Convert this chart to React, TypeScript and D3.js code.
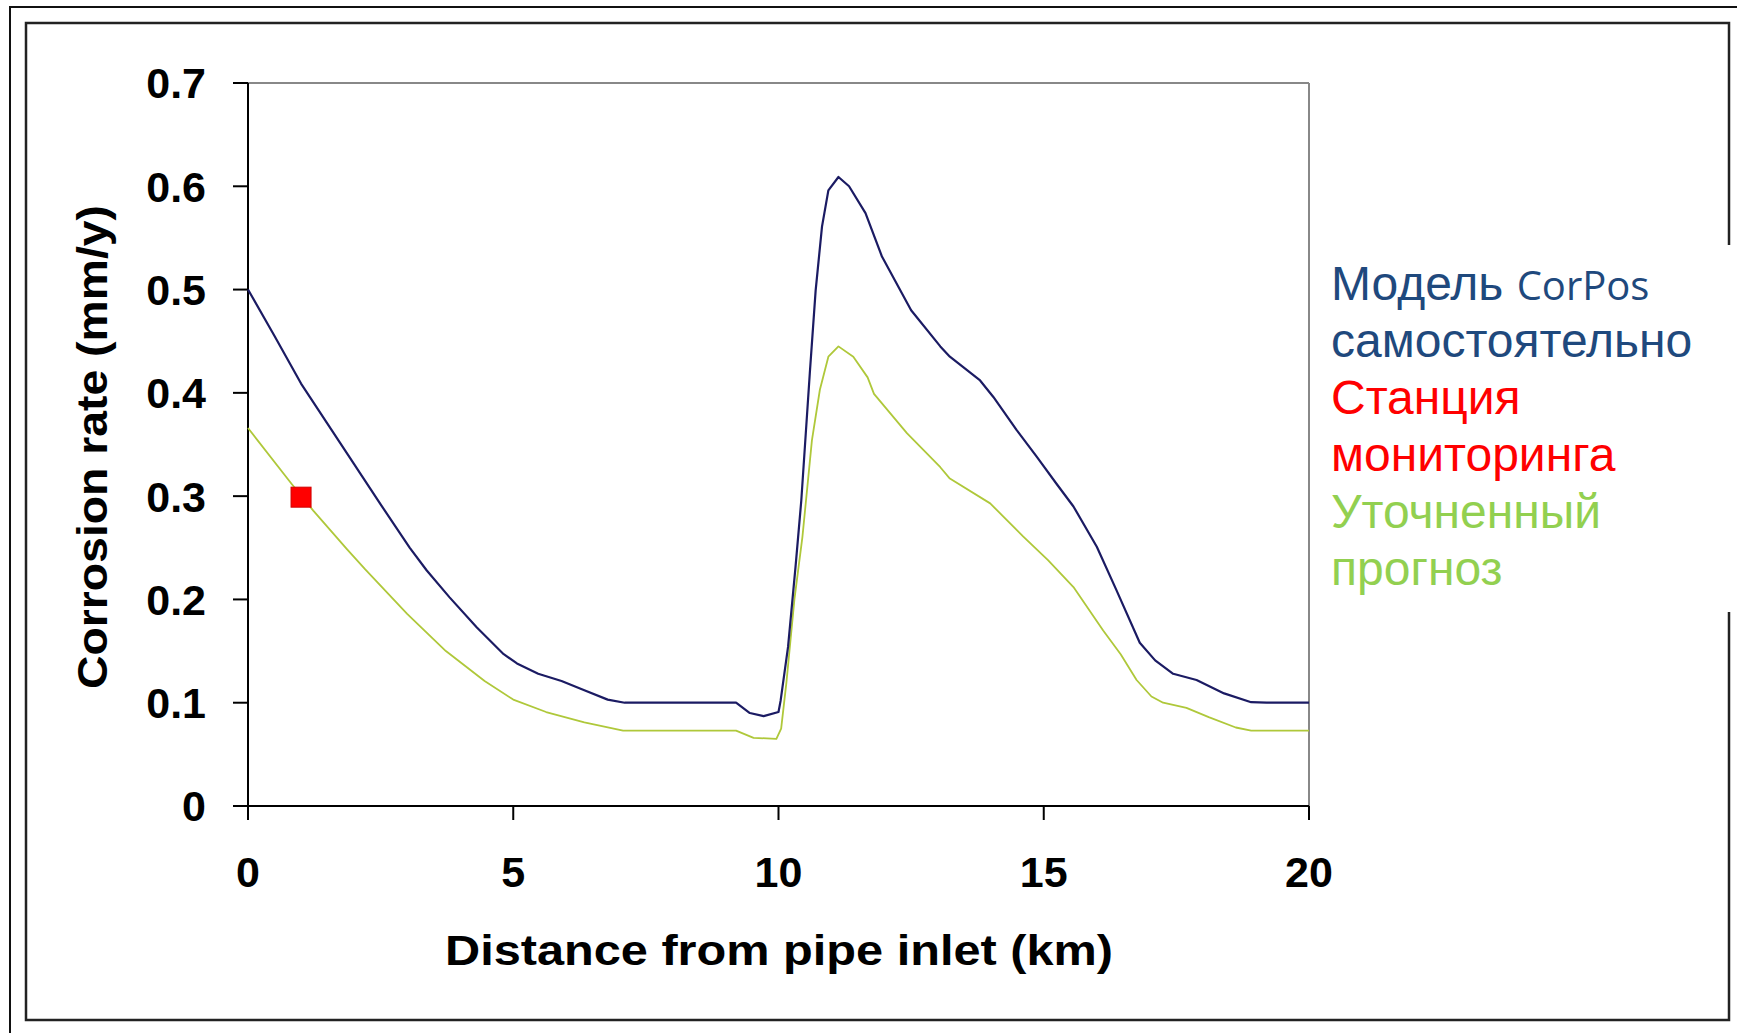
import React from "react";
import * as d3 from "d3";

// distance from pipe inlet (km)
const blueX = [0, 0.5, 1.0, 1.5, 2.0, 2.5, 3.05, 3.37, 3.8, 4.31, 4.82, 5.07, 5.47, 5.91, 6.34, 6.78, 7.1, 9.2, 9.46, 9.72, 10.0, 10.04, 10.18, 10.32, 10.43, 10.59, 10.7, 10.82, 10.94, 11.13, 11.33, 11.64, 11.95, 12.5, 13.05, 13.23, 13.8, 14.05, 14.49, 14.87, 15.24, 15.56, 16.0, 16.37, 16.81, 17.1, 17.44, 17.88, 18.4, 18.91, 19.2, 20];
// corrosion rate, CorPos model alone (mm/y)
const blueY = [0.5, 0.455, 0.409, 0.37, 0.331, 0.292, 0.25, 0.228, 0.202, 0.173, 0.147, 0.138, 0.128, 0.121, 0.112, 0.103, 0.1, 0.1, 0.09, 0.087, 0.091, 0.102, 0.154, 0.231, 0.296, 0.419, 0.499, 0.561, 0.596, 0.609, 0.6, 0.574, 0.532, 0.48, 0.445, 0.435, 0.412, 0.396, 0.364, 0.338, 0.312, 0.29, 0.251, 0.209, 0.158, 0.141, 0.128, 0.122, 0.109, 0.1005, 0.1, 0.1];

const greenX = [0, 0.82, 1.23, 1.86, 2.21, 3.0, 3.73, 4.46, 5.0, 5.62, 6.34, 7.07, 9.2, 9.53, 9.96, 10.05, 10.15, 10.3, 10.45, 10.63, 10.78, 10.94, 11.13, 11.41, 11.68, 11.8, 12.42, 13.05, 13.23, 13.99, 14.61, 15.08, 15.56, 16.12, 16.45, 16.75, 17.03, 17.25, 17.69, 18.11, 18.62, 18.91, 20];
// refined forecast (mm/y)
const greenY = [0.366, 0.312, 0.286, 0.249, 0.229, 0.186, 0.15, 0.121, 0.103, 0.091, 0.081, 0.073, 0.073, 0.066, 0.065, 0.075, 0.12, 0.2, 0.26, 0.354, 0.403, 0.435, 0.445, 0.435, 0.415, 0.399, 0.361, 0.328, 0.317, 0.293, 0.261, 0.238, 0.212, 0.17, 0.147, 0.122, 0.106, 0.1, 0.095, 0.086, 0.076, 0.073, 0.073];

// monitoring station
const stationX = [1];
const stationY = [0.299];

const xTicks = [0, 5, 10, 15, 20];
const yTicks = [0, 0.1, 0.2, 0.3, 0.4, 0.5, 0.6, 0.7];
const yTickLabels = ["0", "0.1", "0.2", "0.3", "0.4", "0.5", "0.6", "0.7"];

const xLabel = "Distance from pipe inlet (km)";
const yLabel = "Corrosion rate (mm/y)";

const legendLines = [
  { parts: [{ t: "Модель ", f: "Liberation Sans, Arial, sans-serif", s: 48 }, { t: "CorPos", f: "Open Sans, Noto Sans, sans-serif", s: 40 }], color: "#1F497D" },
  { parts: [{ t: "самостоятельно", f: "Liberation Sans, Arial, sans-serif", s: 48 }], color: "#1F497D" },
  { parts: [{ t: "Станция", f: "Liberation Sans, Arial, sans-serif", s: 48 }], color: "#FF0000" },
  { parts: [{ t: "мониторинга", f: "Liberation Sans, Arial, sans-serif", s: 48 }], color: "#FF0000" },
  { parts: [{ t: "Уточненный", f: "Liberation Sans, Arial, sans-serif", s: 48 }], color: "#92D050" },
  { parts: [{ t: "прогноз", f: "Liberation Sans, Arial, sans-serif", s: 48 }], color: "#92D050" },
];

export default function App() {
  const W = 1737, H = 1033;
  const left = 248, right = 1309, top = 83, bottom = 806;
  const x = d3.scaleLinear().domain([0, 20]).range([left, right]);
  const y = d3.scaleLinear().domain([0, 0.7]).range([bottom, top]);

  const blue = blueX.map((v, i) => [v, blueY[i]] as [number, number]);
  const green = greenX.map((v, i) => [v, greenY[i]] as [number, number]);
  const line = d3.line<[number, number]>().x(d => x(d[0])).y(d => y(d[1]));

  const font = "Liberation Sans, Arial, sans-serif";

  return (
    <div style={{ position: "absolute", left: 0, top: 0 }}>
      <svg width={W} height={H} style={{ display: "block", background: "#fff" }}>
        <rect x={0} y={0} width={W} height={H} fill="#fff" />
        {/* outer frame */}
        <rect x={10} y={7} width={W + 20} height={H + 20} fill="none" stroke="#111" strokeWidth={2} />
        {/* inner frame */}
        <rect x={26} y={23} width={1703} height={997} fill="#fff" stroke="#222" strokeWidth={2.5} />

        {/* plot frame (top & right) */}
        <line x1={left} x2={right} y1={top} y2={top} stroke="#888" strokeWidth={2} />
        <line x1={right} x2={right} y1={top} y2={bottom} stroke="#888" strokeWidth={2} />

        {/* axes */}
        <line x1={left} x2={left} y1={top} y2={bottom + 14} stroke="#000" strokeWidth={2} />
        <line x1={left - 15} x2={right} y1={bottom} y2={bottom} stroke="#000" strokeWidth={2} />
        {yTicks.map((t, i) => (
          <g key={"y" + i}>
            <line x1={left - 15} x2={left} y1={y(t)} y2={y(t)} stroke="#000" strokeWidth={2} />
            <text x={206} y={y(t)} dy="0.36em" textAnchor="end" fontFamily={font} fontWeight="bold" fontSize={43} fill="#000">
              {yTickLabels[i]}
            </text>
          </g>
        ))}
        {xTicks.map((t, i) => (
          <g key={"x" + i}>
            <line x1={x(t)} x2={x(t)} y1={bottom} y2={bottom + 14} stroke="#000" strokeWidth={2} />
            <text x={x(t)} y={887} textAnchor="middle" fontFamily={font} fontWeight="bold" fontSize={43} fill="#000">
              {String(t)}
            </text>
          </g>
        ))}

        <text x={779} y={965} textAnchor="middle" fontFamily={font} fontWeight="bold" fontSize={42} fill="#000" textLength={668} lengthAdjust="spacingAndGlyphs">
          {xLabel}
        </text>
        <text transform={`translate(107, 447) rotate(-90)`} textAnchor="middle" fontFamily={font} fontWeight="bold" fontSize={42} fill="#000" textLength={484} lengthAdjust="spacingAndGlyphs">
          {yLabel}
        </text>

        {/* series */}
        <path d={line(green) || ""} fill="none" stroke="#afc83a" strokeWidth={1.8} strokeLinejoin="round" />
        <path d={line(blue) || ""} fill="none" stroke="#1b1b63" strokeWidth={2.2} strokeLinejoin="round" />
        {stationX.map((v, i) => (
          <rect key={"s" + i} x={x(v) - 10} y={y(stationY[i]) - 10} width={20} height={20} fill="#ff0000" stroke="#d00000" strokeWidth={1} />
        ))}

        {/* legend box */}
        <rect x={1313} y={245} width={W - 1313} height={367} fill="#fff" />
        {legendLines.map((l, i) => (
          <text key={"l" + i} x={1331} y={300 + i * 57} fill={l.color}>
            {l.parts.map((p, j) => (
              <tspan key={j} fontFamily={p.f} fontSize={p.s}>{p.t}</tspan>
            ))}
          </text>
        ))}
      </svg>
    </div>
  );
}
